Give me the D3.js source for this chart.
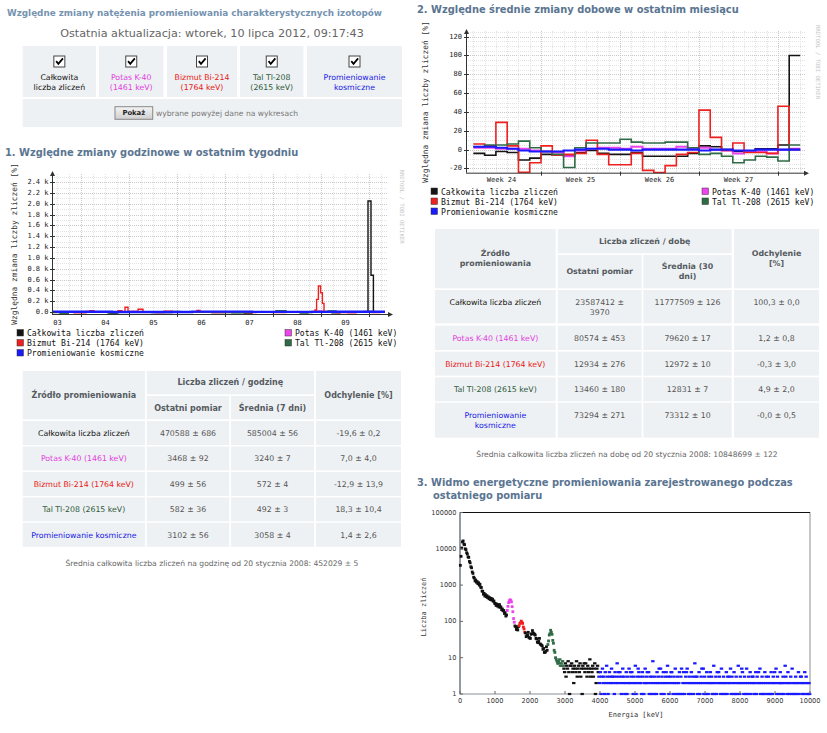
<!DOCTYPE html>
<html><head><meta charset="utf-8">
<script src="https://cdn.jsdelivr.net/npm/d3@7"></script>
<style>body{margin:0;background:#fff}svg{display:block}</style>
</head><body>
<script>
// ================= DATA =================
const seriesNames = ["Całkowita liczba zliczeń","Potas K-40 (1461 keV)","Bizmut Bi-214 (1764 keV)","Tal Tl-208 (2615 keV)","Promieniowanie kosmiczne"];
const checkboxLabels = [["Całkowita","liczba zliczeń"],["Potas K-40","(1461 keV)"],["Bizmut Bi-214","(1764 keV)"],["Tal Tl-208","(2615 keV)"],["Promieniowanie","kosmiczne"]];

// Chart 1: hourly relative change [%], change points [hours since start, value]
const weekTotal  = [[0,-5],[5,-25],[8,-3],[20,5],[29,-30],[32,-4],[50,-12],[60,3],[80,-8],[96,-20],[100,-4],[115,5],[125,-10],[130,8],[140,-15],[144,-3],[150,5],[158,2050],[159.5,680],[160.7,-5],[166.5,-5]];
const weekK40    = [[0,0],[40,10],[42,0],[133,20],[135,0],[166.5,0]];
const weekBi214  = [[0,0],[11,-15],[17,10],[19,25],[21,0],[28,-10],[33,25],[35,0],[36.5,87],[38,10],[43,50],[45.5,0],[52,-12],[56,15],[60,0],[72.5,30],[74,0],[80,-10],[86,0],[97.5,-12],[102,0],[110,-8],[117,0],[125,-5],[131.5,37],[132.3,234],[133.2,480],[134.3,356],[135.2,160],[136,0],[142,-10],[148,-15],[152,0],[160,-10],[164,0],[166.5,0]];
const weekTl208  = [[0,-10],[4,-25],[8,0],[28,-20],[33,0],[60,10],[64,0],[90,-15],[95,0],[112,25],[117,0],[124,-20],[128,0],[138,20],[142,0],[156,10],[161,0],[166.5,0]];
const weekCosmic = [[0,5],[30,0],[70,8],[100,3],[140,5],[166.5,5]];
const weekDayLabels = ["03","04","05","06","07","08","09"];
const weekYTicks = [0,200,400,600,800,1000,1200,1400,1600,1800,2000,2200,2400];

// Chart 2: daily relative change [%], one value per day from 12 June 2012
const monthTotal  = [-4,-6,-2,-3,-11,-9,-5,-6,-6,-3,-1,-4,-5,-5,-3,-7,-7,-7,-7,-4,4,3,0,-2,-2,1,1,5,100];
const monthK40    = [2,2,1,1,1,-1,-2,-3,-7,-1,1,2,2,1,3,1,1,1,3,1,2,0,-1,-4,-2,-2,-4,0,1];
const monthBi214  = [6,4,29,4,-24,-14,4,-6,-5,-4,10,-5,-16,-16,-4,-22,-25,-17,-5,-3,42,13,-1,7,-3,-3,-4,46,0];
const monthTl208  = [3,5,5,6,9,2,-2,-5,-19,2,7,7,7,11,8,7,7,8,8,2,-5,-4,-7,-14,-11,-7,-8,-12,5];
const monthCosmic = [3,3,2,1,-1,-2,-2,-2,-1,0,1,1,0,0,-1,0,0,0,0,0,-1,0,0,-1,-1,0,0,0,0];
const monthWeekLabels = ["Week 24","Week 25","Week 26","Week 27"];
const monthYTicks = [-20,0,20,40,60,80,100,120];

// Chart 3: spectrum, counts per 20 keV channel
const spectrumMain = [3500,6200,10500,15500,16500,13500,13000,10000,9500,7800,
 7200,6000,5800,4500,4100,3200,3000,2300,2100,1650,
 1550,1300,1380,1200,1250,1100,1160,1000,1060,880,
 860,690,670,560,590,500,545,480,510,450,
 475,420,450,400,430,385,410,360,365,315,
 310,275,300,265,285,250,290,245,250,210,
 220,195,200,165,175,140,150,200,260,330,
 370,395,380,345,255,185,120,95,75,72,
 60,64,58,72,76,88,92,102,94,88,
 70,62,50,48,38,40,42,50,36,35,
 34,44,46,56,48,46,44,42,34,33,
 27,26,28,34,24,23,22,21,17,18,
 14,14,15,20,16,23,29,42,46,57,
 50,44,30,25,16,14,10,9,8,7];
const spectrumTail = [8,7,9,6,7,6,8,6,
 5,4,7,3,6,5,8,4,1,6, 6,7,4,5,2,6,5,4,8,3, 5,6,4,7,3,5,1,6,5,7, 4,7,5,3,6,4,5,9,3,5, 4,6,3,5,7,1,2,5,6,4,
 3,2,4,1,3,5,2,3,1,4, 2,6,3,1,2,4,3,2,5,3,
 2,3,1,4,2,3,7,2,4,3, 4,2,1,3,5,2,3,1,2,4,
 1,3,2,5,2,4,3,4,2,1, 3,2,6,1,2,3,5,4,2,3,
 2,1,4,3,1,2,5,2,3,4, 2,4,1,3,2,1,3,8,2,1,
 3,2,1,4,2,3,5,2,5,1, 3,2,4,1,2,3,4,2,6,3,
 1,2,3,4,4,2,1,3,2,5, 1,2,3,1,2,4,1,3,5,1,
 2,4,1,2,3,4,5,2,1,3, 2,1,4,2,3,1,2,7,3,2,
 3,1,2,4,1,2,3,5,2,5, 1,3,2,1,4,2,1,3,2,4,
 2,3,1,2,6,1,2,3,1,4, 2,4,3,2,1,5,2,1,3,2,
 1,2,4,1,3,2,3,2,5,1, 3,2,1,4,2,1,3,1,2,6,
 2,1,3,2,5,4,2,1,3,2, 1,5,2,1,3,2,4,1,2,3,
 3,2,1,2,4,1,3,2,4,2, 5,1,2,3,1,2,1,4,2,3,
 1,2,3,1,2,1,4,2,1,3, 2,4,2,5,1,3,2,1,2,4,
 2,1,2,3,1,2,6,3,2,1, 4,2,1,2,3,1,5,2,1,2,
 1,3,2,1,2,4,1,2,3,3, 2,1,2,1,4,2,3,1,2,1,
 2,1];
const spectrumXTicks = [0,1000,2000,3000,4000,5000,6000,7000,8000,9000,10000];
const spectrumYTicks = [1,10,100,1000,10000,100000];
// energy windows [keV] of the coloured lines: K-40, Bi-214, Tl-208, cosmic
const spectrumWindows = [[1340,1560],[1680,1860],[2500,2960],[3960,10000]];

// Tables
const table1Head = ["Źródło promieniowania","Liczba zliczeń / godzinę","Ostatni pomiar","Średnia (7 dni)","Odchylenie [%]"];
const table1Rows = [
 ["Całkowita liczba zliczeń","470588 ± 686","585004 ± 56","-19,6 ± 0,2"],
 ["Potas K-40 (1461 keV)","3468 ± 92","3240 ± 7","7,0 ± 4,0"],
 ["Bizmut Bi-214 (1764 keV)","499 ± 56","572 ± 4","-12,9 ± 13,9"],
 ["Tal Tl-208 (2615 keV)","582 ± 36","492 ± 3","18,3 ± 10,4"],
 ["Promieniowanie kosmiczne","3102 ± 56","3058 ± 4","1,4 ± 2,6"]];
const table1Note = "Średnia całkowita liczba zliczeń na godzinę od 20 stycznia 2008: 452029 ± 5";
const table2Head = ["Źródło\npromieniowania","Liczba zliczeń / dobę","Ostatni pomiar","Średnia (30\ndni)","Odchylenie\n[%]"];
const table2Rows = [
 ["Całkowita liczba zliczeń","23587412 ±\n3970","11777509 ± 126","100,3 ± 0,0"],
 ["Potas K-40 (1461 keV)","80574 ± 453","79620 ± 17","1,2 ± 0,8"],
 ["Bizmut Bi-214 (1764 keV)","12934 ± 276","12972 ± 10","-0,3 ± 3,0"],
 ["Tal Tl-208 (2615 keV)","13460 ± 180","12831 ± 7","4,9 ± 2,0"],
 ["Promieniowanie\nkosmiczne","73294 ± 271","73312 ± 10","-0,0 ± 0,5"]];
const table2Note = "Średnia całkowita liczba zliczeń na dobę od 20 stycznia 2008: 10848699 ± 122";

// ================= STYLE / LAYOUT =================
const SANS = "DejaVu Sans", MONO = "DejaVu Sans Mono";
const LINE_COL = ["#151515","#ee44ee","#ee2020","#2f6b45","#1a1aff"];
const LABEL_COL = ["#111111","#e040e0","#e81818","#2c5a3c","#1818e8"];
const CELL = "#eef1f3";

const svg = d3.select("body").append("svg").attr("width",827).attr("height",733);

function txt(g,x,y,s,o={}){
  const t = g.append("text").attr("x",x).attr("y",y).text(s)
    .attr("font-size",o.size||8).attr("font-family",o.font||SANS)
    .attr("fill",o.fill||"#333").attr("text-anchor",o.anchor||"start")
    .attr("dominant-baseline","central");
  if(o.bold) t.attr("font-weight","bold");
  if(o.rot) t.attr("transform",`rotate(${o.rot},${x},${y})`);
  return t;
}
function lines(g,x,y,s,o,lh){
  s.split("\n").forEach((l,i)=>txt(g,x,y+i*lh,l,o));
}

// ---------- Top header ----------
txt(svg,7,13,"Względne zmiany natężenia promieniowania charakterystycznych izotopów",{bold:true,size:8.8,fill:"#7593b0"});
txt(svg,212,33,"Ostatnia aktualizacja: wtorek, 10 lipca 2012, 09:17:43",{size:11.2,fill:"#666",anchor:"middle"});

const cbCells = [[22.7,96],[99,163.5],[167,237],[240,303.5],[307,402]];
const cbG = svg.append("g");
cbCells.forEach((c,i)=>{
  cbG.append("rect").attr("x",c[0]).attr("y",46).attr("width",c[1]-c[0]).attr("height",51).attr("fill",CELL);
  const cx=(c[0]+c[1])/2;
  cbG.append("rect").attr("x",cx-5.5).attr("y",56).attr("width",11).attr("height",11).attr("fill","#fff").attr("stroke","#444").attr("stroke-width",1);
  cbG.append("path").attr("d",`M${cx-3.2},${61.2} L${cx-1},${63.8} L${cx+3.6},${58.4}`).attr("fill","none").attr("stroke","#000").attr("stroke-width",1.8);
  checkboxLabels[i].forEach((l,j)=>txt(cbG,cx,77+j*10,l,{size:7.8,fill:LABEL_COL[i],anchor:"middle"}));
});
cbG.append("rect").attr("x",22.7).attr("y",99).attr("width",402-22.7).attr("height",28).attr("fill",CELL);
const grad = svg.append("defs").append("linearGradient").attr("id","btn").attr("x1",0).attr("x2",0).attr("y1",0).attr("y2",1);
grad.append("stop").attr("offset",0).attr("stop-color","#f4f4f4");
grad.append("stop").attr("offset",1).attr("stop-color","#cfcfcf");
cbG.append("rect").attr("x",115).attr("y",106.7).attr("width",37.7).attr("height",12.6).attr("fill","url(#btn)").attr("stroke","#888");
txt(cbG,133.8,113.2,"Pokaż",{size:6.8,bold:true,fill:"#222",anchor:"middle"});
txt(cbG,156,113.2,"wybrane powyżej dane na wykresach",{size:7.6,fill:"#777"});

// ---------- helpers for RRD-like charts ----------
function arrowUp(g,x,y){g.append("path").attr("d",`M${x-2.5},${y+5} L${x},${y} L${x+2.5},${y+5}Z`).attr("fill","#333");}
function arrowRight(g,x,y){g.append("path").attr("d",`M${x-5},${y-2.5} L${x},${y} L${x-5},${y+2.5}Z`).attr("fill","#333");}
function gridLine(g,x1,y1,x2,y2,major){
  g.append("line").attr("x1",x1).attr("y1",y1).attr("x2",x2).attr("y2",y2)
   .attr("stroke",major?"#c9c9c9":"#e3e3e3").attr("stroke-width",1).attr("stroke-dasharray","1,1").attr("shape-rendering","crispEdges");
}
function legendItem(g,x,y,i){
  g.append("rect").attr("x",x).attr("y",y-3.5).attr("width",6.5).attr("height",6.5).attr("fill",LINE_COL[i]).attr("stroke","#333").attr("stroke-width",0.5);
  txt(g,x+10,y,seriesNames[i],{font:MONO,size:8.1,fill:"#111"});
}

// ---------- Section 1 ----------
txt(svg,5,152.5,"1. Względne zmiany godzinowe w ostatnim tygodniu",{bold:true,size:9.9,fill:"#5a7591"});
{
  const g = svg.append("g");
  const t0 = new Date(2012,6,3,9,17), t1 = new Date(2012,6,10,9,17);
  const x = d3.scaleTime().domain([t0,t1]).range([52,388]);
  const y = d3.scaleLinear().domain([-37,2550]).range([314,174]);
  const top = y(2550), bot = y(-37);
  d3.range(100,2501,200).forEach(v=>gridLine(g,52,Math.round(y(v))+0.5,388,Math.round(y(v))+0.5,false));
  weekYTicks.forEach(v=>{ if(v>0) gridLine(g,52,Math.round(y(v))+0.5,388,Math.round(y(v))+0.5,true); });
  d3.timeHour.every(6).range(t0,t1).forEach(d=>{ if(d.getHours()!==0) gridLine(g,Math.round(x(d))+0.5,top,Math.round(x(d))+0.5,bot,false); });
  d3.timeDay.range(t0,t1).forEach(d=>gridLine(g,Math.round(x(d))+0.5,top,Math.round(x(d))+0.5,bot,true));
  svg.append("clipPath").attr("id","c1").append("rect").attr("x",52).attr("y",170).attr("width",336).attr("height",bot-170+1);
  const hx = h => x(new Date(+t0 + h*3600e3));
  const line = d3.line().x(d=>hx(d[0])).y(d=>y(d[1])).curve(d3.curveStepAfter);
  [weekTotal,weekK40,weekBi214,weekTl208,weekCosmic].forEach((s,i)=>{
    g.append("path").attr("d",line(s)).attr("fill","none").attr("stroke",LINE_COL[i])
     .attr("stroke-width",i===4?2.3:1.4).attr("clip-path","url(#c1)");
  });
  g.append("line").attr("x1",52.5).attr("x2",52.5).attr("y1",bot).attr("y2",173).attr("stroke","#333");
  arrowUp(g,52.5,171);
  g.append("line").attr("x1",52).attr("x2",390).attr("y1",bot+0.5).attr("y2",bot+0.5).attr("stroke","#333");
  arrowRight(g,393,bot+0.5);
  weekYTicks.forEach(v=>{
    g.append("line").attr("x1",50).attr("x2",55).attr("y1",Math.round(y(v))+0.5).attr("y2",Math.round(y(v))+0.5).attr("stroke","#333");
    txt(g,48.5,y(v),v===0?"0.0":(v/1000).toFixed(1)+" k",{font:MONO,size:7,fill:"#222",anchor:"end"});
  });
  d3.timeDay.range(t0,t1).forEach(d=>g.append("line").attr("x1",Math.round(x(d))+0.5).attr("x2",Math.round(x(d))+0.5).attr("y1",bot-1).attr("y2",bot+3).attr("stroke","#333"));
  weekDayLabels.forEach((l,i)=>txt(g,x(new Date(2012,6,3+i,12)),322.5,l,{font:MONO,size:7,fill:"#222",anchor:"middle"}));
  txt(g,14,244,"Względna zmiana liczby zliczeń [%]",{font:MONO,size:7.9,fill:"#333",anchor:"middle",rot:-90});
  txt(g,402,206.5,"RRDTOOL / TOBI OETIKER",{font:MONO,size:5.6,fill:"#c4c4c4",anchor:"middle",rot:90});
  legendItem(g,17,333,0); legendItem(g,17,343,2); legendItem(g,17,353,4);
  legendItem(g,285,333,1); legendItem(g,285,343,3);
}

// ---------- Tables ----------
function cell(g,x,y,w,h){ g.append("rect").attr("x",x).attr("y",y).attr("width",w).attr("height",h).attr("fill",CELL); }
{
  const g = svg.append("g");
  const cx=[22.7,146.7,231,316], cw=[122.3,82.6,83,85];
  const hs = {size:8,bold:true,fill:"#555b61",anchor:"middle"};
  cell(g,cx[0],371,cw[0],48.3); txt(g,cx[0]+cw[0]/2,395.6,table1Head[0],hs);
  cell(g,cx[1],371,cx[2]+cw[2]-cx[1],23.3); txt(g,(cx[1]+cx[2]+cw[2])/2,382.3,table1Head[1],hs);
  cell(g,cx[1],396,cw[1],23.3); txt(g,cx[1]+cw[1]/2,408,table1Head[2],hs);
  cell(g,cx[2],396,cw[2],23.3); txt(g,cx[2]+cw[2]/2,408,table1Head[3],hs);
  cell(g,cx[3],371,cw[3],48.3); txt(g,cx[3]+cw[3]/2,395.6,table1Head[4],hs);
  table1Rows.forEach((r,i)=>{
    const y0 = 421 + i*25.45;
    r.forEach((v,j)=>{
      cell(g,cx[j],y0,cw[j],24);
      txt(g,cx[j]+cw[j]/2,y0+12.3,v,{size:7.8,fill:j===0?LABEL_COL[i]:"#555",anchor:"middle"});
    });
  });
  txt(g,212,563.5,table1Note,{size:7.6,fill:"#666",anchor:"middle"});
}
{
  const g = svg.append("g");
  const cx=[435,557.7,643.3,734], cw=[120.7,84,88.4,85];
  const hs = {size:7.9,bold:true,fill:"#555b61",anchor:"middle"};
  const lh = 10.3;
  cell(g,cx[0],229,cw[0],59.3); lines(g,cx[0]+cw[0]/2,253.5,table2Head[0],hs,lh);
  cell(g,cx[1],229,cx[2]+cw[2]-cx[1],24.3); txt(g,(cx[1]+cx[2]+cw[2])/2,241.5,table2Head[1],hs);
  cell(g,cx[1],255,cw[1],33.3); txt(g,cx[1]+cw[1]/2,271.6,table2Head[2],hs);
  cell(g,cx[2],255,cw[2],33.3); lines(g,cx[2]+cw[2]/2,266.5,table2Head[3],hs,lh);
  cell(g,cx[3],229,cw[3],59.3); lines(g,cx[3]+cw[3]/2,253.5,table2Head[4],hs,lh);
  const ry=[290,325.7,351.7,377.3,402.7], rh=[33.3,24.3,24,24,35];
  table2Rows.forEach((r,i)=>{
    r.forEach((v,j)=>{
      cell(g,cx[j],ry[i],cw[j],rh[i]);
      lines(g,cx[j]+cw[j]/2,ry[i]+12.3,v,{size:7.8,fill:j===0?LABEL_COL[i]:"#555",anchor:"middle"},10);
    });
  });
  txt(g,627,454.5,table2Note,{size:7.6,fill:"#666",anchor:"middle"});
}

// ---------- Section 2 ----------
txt(svg,417,9,"2. Względne średnie zmiany dobowe w ostatnim miesiącu",{bold:true,size:9.9,fill:"#5a7591"});
{
  const g = svg.append("g");
  const day0 = new Date(2012,5,12);
  const t0 = new Date(2012,5,11,8,24), t1 = new Date(2012,6,11,9,36);
  const x = d3.scaleTime().domain([t0,t1]).range([466,805]);
  const y = d3.scaleLinear().domain([-24.5,126]).range([172.7,31]);
  const top = y(126), bot = y(-24.5);
  d3.range(-20,126,5).forEach(v=>{ if(v%20!==0) gridLine(g,466,Math.round(y(v))+0.5,805,Math.round(y(v))+0.5,false); });
  monthYTicks.forEach(v=>gridLine(g,466,Math.round(y(v))+0.5,805,Math.round(y(v))+0.5,true));
  d3.timeDay.range(t0,t1).forEach(d=>{ if(d.getDay()!==1) gridLine(g,Math.round(x(d))+0.5,top,Math.round(x(d))+0.5,bot,false); });
  const mondays = d3.timeMonday.range(new Date(2012,5,11), t1);
  mondays.forEach(d=>{ if(d>t0) gridLine(g,Math.round(x(d))+0.5,top,Math.round(x(d))+0.5,bot,true); });
  svg.append("clipPath").attr("id","c2").append("rect").attr("x",466).attr("y",28).attr("width",339).attr("height",bot-28+1);
  const dayDate = i => d3.timeDay.offset(day0,i);
  const line = d3.line().x(d=>x(d[0])).y(d=>y(Math.max(d[1],-24.3))).curve(d3.curveStepAfter);
  [monthTotal,monthK40,monthBi214,monthTl208,monthCosmic].forEach((s,i)=>{
    const pts = s.map((v,k)=>[dayDate(k),v]); pts.push([new Date(+dayDate(s.length-1)+86400e3*0.98),s[s.length-1]]);
    g.append("path").attr("d",line(pts)).attr("fill","none").attr("stroke",LINE_COL[i])
     .attr("stroke-width",i===4?2.1:(i===1?2:1.6)).attr("clip-path","url(#c2)");
  });
  g.append("line").attr("x1",466.5).attr("x2",466.5).attr("y1",bot).attr("y2",31).attr("stroke","#333");
  arrowUp(g,466.5,29);
  g.append("line").attr("x1",466).attr("x2",806).attr("y1",bot+0.5).attr("y2",bot+0.5).attr("stroke","#333");
  arrowRight(g,809,bot+0.5);
  monthYTicks.forEach(v=>{
    g.append("line").attr("x1",464).attr("x2",469).attr("y1",Math.round(y(v))+0.5).attr("y2",Math.round(y(v))+0.5).attr("stroke","#333");
    txt(g,462,y(v),String(v),{font:MONO,size:7,fill:"#222",anchor:"end"});
  });
  mondays.forEach(d=>{ if(d>t0) g.append("line").attr("x1",Math.round(x(d))+0.5).attr("x2",Math.round(x(d))+0.5).attr("y1",bot-1).attr("y2",bot+3).attr("stroke","#333"); });
  monthWeekLabels.forEach((l,i)=>txt(g,x(new Date(+mondays[i]+3.5*86400e3)),179.5,l,{font:MONO,size:7,fill:"#222",anchor:"middle"}));
  txt(g,425,102,"Względna zmiana liczby zliczeń [%]",{font:MONO,size:7.9,fill:"#333",anchor:"middle",rot:-90});
  txt(g,818,62,"RRDTOOL / TOBI OETIKER",{font:MONO,size:5.6,fill:"#c4c4c4",anchor:"middle",rot:90});
  legendItem(g,431,191.5,0); legendItem(g,431,201.5,2); legendItem(g,431,211.5,4);
  legendItem(g,702,191.5,1); legendItem(g,702,201.5,3);
}

// ---------- Section 3 ----------
txt(svg,417,482.7,"3. Widmo energetyczne promieniowania zarejestrowanego podczas",{bold:true,size:9.9,fill:"#5a7591"});
txt(svg,433,495.3,"ostatniego pomiaru",{bold:true,size:9.9,fill:"#5a7591"});
{
  const g = svg.append("g");
  const x = d3.scaleLinear().domain([0,10000]).range([460,810]);
  const y = d3.scaleLog().domain([1,100000]).range([694,512.5]);
  const CH = 20, nMain = spectrumMain.length;
  const counts = spectrumMain.concat(spectrumTail);
  const pts = counts.map((c,i)=>({e:(i+0.5)*CH,c,main:i<nMain}));
  const colorOf = e => {
    for(let k=0;k<spectrumWindows.length;k++){ const w=spectrumWindows[k]; if(e>=w[0]&&e<w[1]) return LINE_COL[k+1]; }
    return "#111";
  };
  g.append("rect").attr("x",460).attr("y",512.5).attr("width",350).attr("height",181.5).attr("fill","#fff").attr("stroke","#8a8f96").attr("stroke-width",1);
  g.append("line").attr("x1",460).attr("x2",810).attr("y1",512.5).attr("y2",512.5).attr("stroke","#111");
  g.append("line").attr("x1",460).attr("x2",460).attr("y1",512.5).attr("y2",694).attr("stroke","#8a8f96").attr("stroke-width",1.6);
  g.selectAll("rect.pt").data(pts.filter(d=>d.c>=1)).join("rect").attr("class","pt")
    .attr("x",d=>x(d.e)-(d.main?1.4:1.7)).attr("y",d=>y(d.c)-(d.main?1.4:1.1))
    .attr("width",d=>d.main?2.8:3.4).attr("height",d=>d.main?2.8:2.2)
    .attr("fill",d=>colorOf(d.e));
  spectrumXTicks.forEach(v=>{
    g.append("line").attr("x1",x(v)).attr("x2",x(v)).attr("y1",694).attr("y2",691).attr("stroke","#666");
    txt(g,x(v),700.5,String(v),{size:6.6,fill:"#333",anchor:"middle"});
  });
  spectrumYTicks.forEach(v=>{
    g.append("line").attr("x1",460).attr("x2",463).attr("y1",y(v)).attr("y2",y(v)).attr("stroke","#666");
    txt(g,456.5,y(v),String(v),{size:6.6,fill:"#333",anchor:"end"});
  });
  txt(g,636,715,"Energia [keV]",{font:MONO,size:7,fill:"#333",anchor:"middle"});
  txt(g,424,607,"Liczba zliczeń",{font:MONO,size:7,fill:"#333",anchor:"middle",rot:-90});
}
</script>
</body></html>
